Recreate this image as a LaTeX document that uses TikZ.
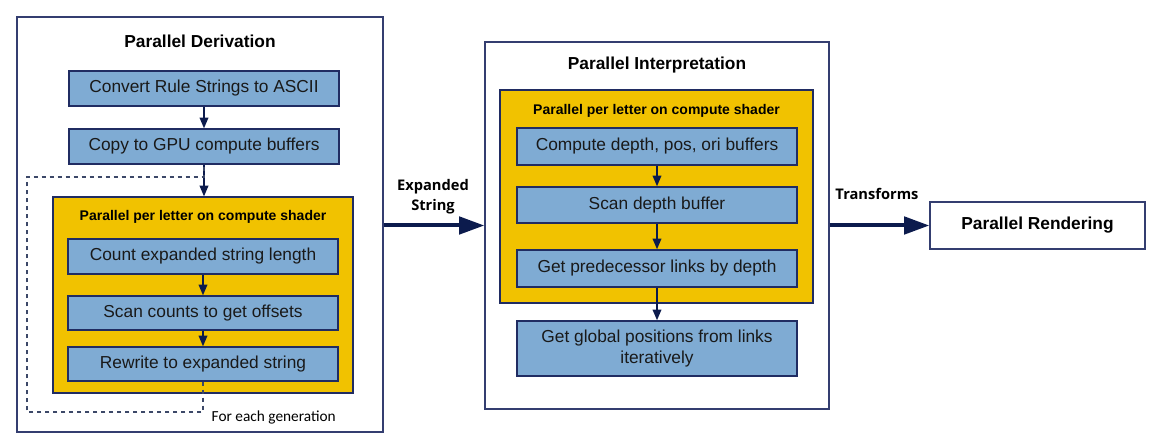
\documentclass[tikz,border=0pt]{standalone}
\usepackage{fontspec}
\setmainfont{Liberation Sans}
\newfontfamily\labelfont{Open Sans}
\newfontfamily\notefont{Carlito}
\usetikzlibrary{arrows.meta}
\definecolor{boxblue}{RGB}{127,171,211}
\definecolor{shaderyellow}{RGB}{241,194,0}
\definecolor{boxline}{RGB}{32,44,98}
\definecolor{panelline}{RGB}{52,62,112}
\definecolor{arrownavy}{RGB}{12,27,77}
\definecolor{loopline}{RGB}{60,72,104}

\begin{document}
\begin{tikzpicture}[x=0.75pt, y=-0.75pt,
        panel/.style={draw=panelline, line width=1pt, fill=white},
        shader/.style={draw=boxline, line width=0.9pt, fill=shaderyellow},
        stepbox/.style={draw=boxline, line width=1.1pt, fill=boxblue, minimum height=26.25pt,
            font=\fontsize{13}{16}\selectfont, text=black!90, align=center},
        titletext/.style={font=\fontsize{13}{16}\selectfont\bfseries},
        shadertext/.style={font=\fontsize{10.5}{12}\selectfont\bfseries},
        edgetext/.style={font=\labelfont\fontsize{11}{15}\selectfont\bfseries, align=center},
        flow/.style={draw=arrownavy, line width=1.1pt, -{Triangle[length=8pt,width=6.5pt]}},
        bigflow/.style={draw=arrownavy, line width=3pt, -{Triangle[length=19pt,width=13pt]}}]
        \useasboundingbox (0,0) rectangle (1152,448);

        \node (deriv) at (200,224.5) [panel, minimum width=274.5pt, minimum height=311.25pt] {};
        \node (derivtitle) at (200,41) [titletext] {Parallel Derivation};
        \node (conv) at (204,88.5) [stepbox, minimum width=202.5pt] {Convert Rule Strings to ASCII};
        \node (copy) at (204,146.5) [stepbox, minimum width=202.5pt] {Copy to GPU compute buffers};

        \node (lshader) at (203,295) [shader, minimum width=225pt, minimum height=147pt] {};
        \node (ltitle) at (203,217) [shadertext] {Parallel per letter on compute shader};
        \node (count) at (203,256.5) [stepbox, minimum width=202.5pt] {Count expanded string length};
        \node (scan) at (203,313) [stepbox, minimum width=202.5pt, minimum height=25.5pt] {Scan counts to get offsets};
        \node (rewrite) at (203,364) [stepbox, minimum width=202.5pt, minimum height=25.5pt] {Rewrite to expanded string};

        \coordinate (loopa) at (27,412);
        \coordinate (loopb) at (27,177);
        \node (gen) at (207,417) [anchor=west, font=\notefont\fontsize{11.5}{13}\selectfont] {For each generation};

        \node (interp) at (657,225.5) [panel, minimum width=258pt, minimum height=275.25pt] {};
        \node (interptitle) at (657,65) [titletext] {Parallel Interpretation};
        \node (rshader) at (656.5,196.5) [shader, minimum width=234.75pt, minimum height=159.75pt] {};
        \node (rtitle) at (656.5,111) [shadertext] {Parallel per letter on compute shader};
        \node (depth) at (657,146.5) [stepbox, minimum width=210pt, minimum height=27.75pt] {Compute depth, pos, ori buffers};
        \node (scandepth) at (657,205) [stepbox, minimum width=210pt, minimum height=27pt] {Scan depth buffer};
        \node (pred) at (657,268.5) [stepbox, minimum width=210pt, minimum height=27.75pt] {Get predecessor links by depth};
        \node (global) at (657,348.5) [stepbox, minimum width=210pt, minimum height=41.25pt] {Get global positions from links\\iteratively};

        \node (render) at (1037.5,225.5) [panel, minimum width=161.25pt, minimum height=35.25pt, titletext] {Parallel Rendering};

        \node (expanded) at (433,197) [edgetext] {Expanded\\String};
        \node (transforms) at (877,194) [edgetext] {Transforms};

        \draw [flow] (conv) -- (copy);
        \draw [flow] (copy.south) -- (copy.south |- lshader.north);
        \draw [flow] (count) -- (scan);
        \draw [flow] (scan) -- (rewrite);
        \draw [draw=loopline, line width=0.9pt, dash pattern=on 3.5pt off 2.5pt]
            (rewrite.south) |- (loopa) |- (copy.south |- loopb) -- (copy.south);

        \draw [flow] (depth) -- (scandepth);
        \draw [flow] (scandepth) -- (pred);
        \draw [flow] (pred) -- (global);

        \draw [bigflow] (deriv.east |- interp.west) -- (interp.west);
        \draw [bigflow] (interp.east) -- (render.west);
    \end{tikzpicture}
\end{document}
